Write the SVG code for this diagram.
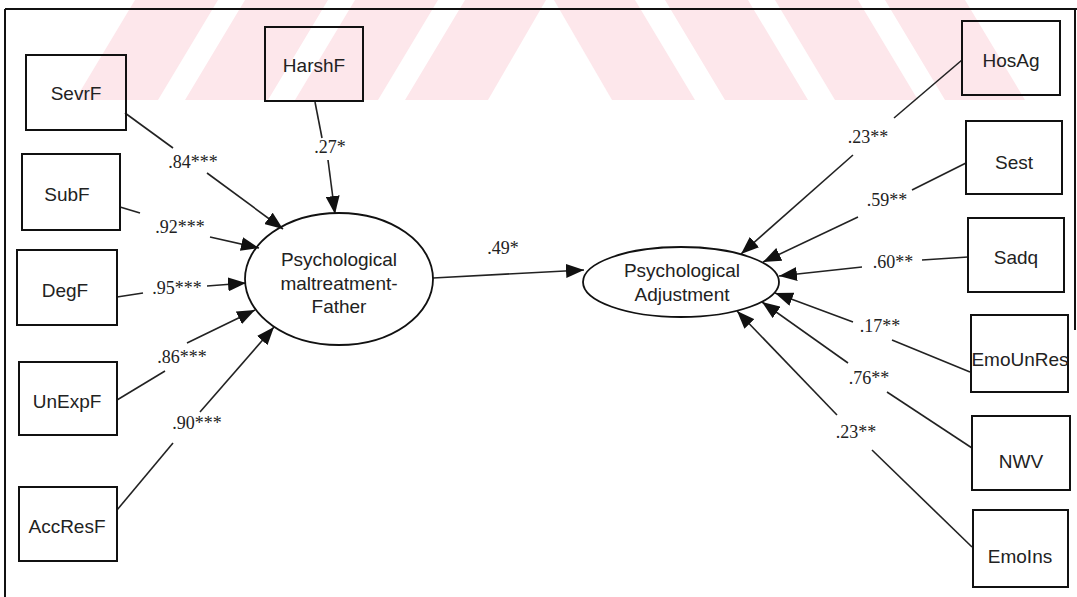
<svg xmlns="http://www.w3.org/2000/svg" width="1077" height="597" viewBox="0 0 1077 597">
<style>
.box{fill:none;stroke:#111;stroke-width:2}
.ell{fill:none;stroke:#111;stroke-width:1.8}
.lbl{font-family:"Liberation Sans",Arial,sans-serif;font-size:19px;fill:#222;text-anchor:middle;dominant-baseline:central}
.coef{font-family:"Liberation Serif","Times New Roman",serif;font-size:18px;fill:#222;text-anchor:middle;dominant-baseline:central}
.ln{fill:none;stroke:#222;stroke-width:1.6}
.wm{fill:#fde7eb}
</style>
<defs>
<marker id="ah" markerUnits="userSpaceOnUse" markerWidth="19" markerHeight="14" refX="18" refY="7" orient="auto">
<path d="M0,0 L18,7 L0,14 z" fill="#111"/>
</marker>
</defs>
<rect width="1077" height="597" fill="#fff"/>
<g id="watermark">
<polygon class="wm" points="75,100 158,100 218,0 135,0"/>
<polygon class="wm" points="185,100 268,100 328,0 245,0"/>
<polygon class="wm" points="295,100 378,100 438,0 355,0"/>
<polygon class="wm" points="405,100 488,100 546,0 465,0"/>
<polygon class="wm" points="554,0 635,0 695,100 612,100"/>
<polygon class="wm" points="665,0 748,0 808,100 725,100"/>
<polygon class="wm" points="775,0 858,0 918,100 835,100"/>
<polygon class="wm" points="885,0 965,0 1025,100 945,100"/>
</g>
<g id="frame" fill="none" stroke="#111" stroke-width="2">
<line x1="5" y1="9" x2="1077" y2="9"/>
<line x1="5" y1="9" x2="5" y2="597"/>
<line x1="1075" y1="9" x2="1075" y2="330"/>
</g>
<g id="connectors">
<line class="ln" x1="125" y1="113" x2="173" y2="148"/>
<line class="ln" x1="207" y1="173" x2="283" y2="229" marker-end="url(#ah)"/>
<line class="ln" x1="315" y1="102" x2="322" y2="138"/>
<line class="ln" x1="328" y1="160" x2="335" y2="214" marker-end="url(#ah)"/>
<line class="ln" x1="120" y1="207" x2="140" y2="213"/>
<line class="ln" x1="210" y1="237" x2="259" y2="248" marker-end="url(#ah)"/>
<line class="ln" x1="117" y1="297" x2="143" y2="293"/>
<line class="ln" x1="207" y1="286" x2="246" y2="283" marker-end="url(#ah)"/>
<line class="ln" x1="117" y1="400" x2="165" y2="371"/>
<line class="ln" x1="187" y1="343" x2="255" y2="310" marker-end="url(#ah)"/>
<line class="ln" x1="117" y1="510" x2="173" y2="443"/>
<line class="ln" x1="200" y1="412" x2="274" y2="327" marker-end="url(#ah)"/>
<line class="ln" x1="433" y1="278" x2="584" y2="270" marker-end="url(#ah)"/>
<line class="ln" x1="962" y1="60" x2="894" y2="118"/>
<line class="ln" x1="853" y1="155" x2="741" y2="254" marker-end="url(#ah)"/>
<line class="ln" x1="966" y1="163" x2="912" y2="190"/>
<line class="ln" x1="858" y1="217" x2="763" y2="262" marker-end="url(#ah)"/>
<line class="ln" x1="968" y1="257" x2="922" y2="260"/>
<line class="ln" x1="862" y1="267" x2="779" y2="276" marker-end="url(#ah)"/>
<line class="ln" x1="970" y1="372" x2="892" y2="340"/>
<line class="ln" x1="853" y1="322" x2="775" y2="293" marker-end="url(#ah)"/>
<line class="ln" x1="972" y1="448" x2="887" y2="392"/>
<line class="ln" x1="848" y1="363" x2="762" y2="302" marker-end="url(#ah)"/>
<line class="ln" x1="972" y1="547" x2="872" y2="450"/>
<line class="ln" x1="837" y1="415" x2="737" y2="311" marker-end="url(#ah)"/>
</g>
<g id="coefficients">
<text class="coef" x="193" y="162">.84***</text>
<text class="coef" x="330" y="147">.27*</text>
<text class="coef" x="180" y="227">.92***</text>
<text class="coef" x="177" y="288">.95***</text>
<text class="coef" x="182" y="357">.86***</text>
<text class="coef" x="197" y="423">.90***</text>
<text class="coef" x="503" y="248">.49*</text>
<text class="coef" x="868" y="137">.23**</text>
<text class="coef" x="887" y="200">.59**</text>
<text class="coef" x="893" y="262">.60**</text>
<text class="coef" x="880" y="326">.17**</text>
<text class="coef" x="869" y="378">.76**</text>
<text class="coef" x="856" y="432">.23**</text>
</g>
<g id="SevrF"><rect class="box" x="26" y="55" width="100" height="75"/><text class="lbl" x="76" y="93">SevrF</text></g>
<g id="HarshF"><rect class="box" x="265" y="27" width="98" height="74"/><text class="lbl" x="314" y="65">HarshF</text></g>
<g id="SubF"><rect class="box" x="22" y="154" width="98" height="76"/><text class="lbl" x="67" y="194">SubF</text></g>
<g id="DegF"><rect class="box" x="17" y="250" width="100" height="75"/><text class="lbl" x="65" y="290">DegF</text></g>
<g id="UnExpF"><rect class="box" x="19" y="362" width="98" height="73"/><text class="lbl" x="67" y="401">UnExpF</text></g>
<g id="AccResF"><rect class="box" x="19" y="487" width="98" height="74"/><text class="lbl" x="67" y="526">AccResF</text></g>
<g id="Father"><ellipse class="ell" cx="339" cy="279" rx="94" ry="66"/>
<text class="lbl" x="339" y="259">Psychological</text>
<text class="lbl" x="339" y="283">maltreatment-</text>
<text class="lbl" x="339" y="306">Father</text></g>
<g id="Adjustment"><ellipse class="ell" cx="681" cy="282" rx="98" ry="35"/>
<text class="lbl" x="682" y="270">Psychological</text>
<text class="lbl" x="682" y="294">Adjustment</text></g>
<g id="HosAg"><rect class="box" x="962" y="21" width="98" height="74"/><text class="lbl" x="1011" y="60">HosAg</text></g>
<g id="Sest"><rect class="box" x="966" y="121" width="96" height="73"/><text class="lbl" x="1014" y="162">Sest</text></g>
<g id="Sadq"><rect class="box" x="968" y="218" width="96" height="74"/><text class="lbl" x="1016" y="257">Sadq</text></g>
<g id="EmoUnRes"><rect class="box" x="971" y="315" width="97" height="77"/><text class="lbl" x="1020" y="359">EmoUnRes</text></g>
<g id="NWV"><rect class="box" x="972" y="416" width="98" height="74"/><text class="lbl" x="1021" y="461">NWV</text></g>
<g id="EmoIns"><rect class="box" x="973" y="510" width="95" height="77"/><text class="lbl" x="1020" y="556">EmoIns</text></g>
</svg>
